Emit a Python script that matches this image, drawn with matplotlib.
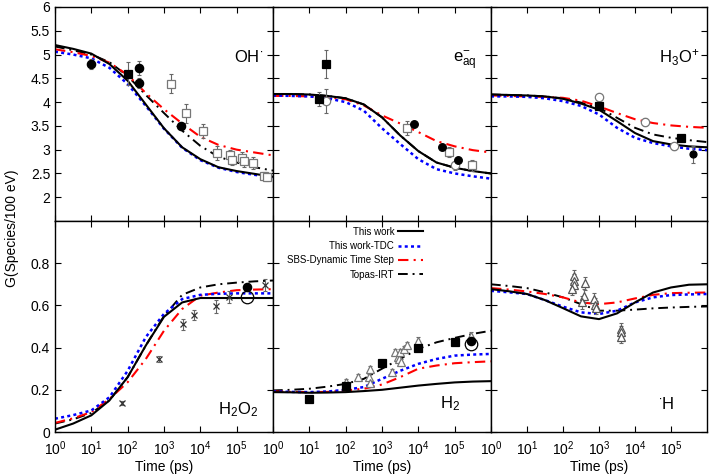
import numpy as np
import matplotlib
matplotlib.use('Agg')
import matplotlib.pyplot as plt

plt.rcParams['font.family'] = ['Liberation Sans', 'DejaVu Sans']
plt.rcParams['mathtext.fontset'] = 'custom'
plt.rcParams['mathtext.rm'] = 'Liberation Sans'
plt.rcParams['mathtext.it'] = 'Liberation Sans:italic'
plt.rcParams['mathtext.bf'] = 'Liberation Sans:bold'

# Time grid of the model curves (ps)
time_ps = [1, 3.16, 10, 31.6, 100, 316, 1000, 3160, 1e4, 3.16e4, 1e5, 3.16e5, 1e6]

# Model curves: This work, This work-TDC, SBS-Dynamic Time Step, Topas-IRT
oh_this = [5.20, 5.12, 5.02, 4.80, 4.45, 3.95, 3.45, 3.05, 2.80, 2.63, 2.55, 2.49, 2.43]
oh_tdc = [5.06, 5.00, 4.92, 4.72, 4.38, 3.92, 3.44, 3.04, 2.78, 2.62, 2.53, 2.47, 2.42]
oh_sbs = [5.11, 5.05, 4.97, 4.83, 4.57, 4.19, 3.85, 3.55, 3.27, 3.10, 3.00, 2.94, 2.88]
oh_topas = [5.17, 5.09, 5.00, 4.84, 4.55, 4.15, 3.77, 3.40, 3.08, 2.85, 2.73, 2.63, 2.56]

eaq_this = [4.17, 4.17, 4.16, 4.13, 4.08, 3.95, 3.68, 3.30, 2.97, 2.73, 2.62, 2.55, 2.50]
eaq_tdc = [4.14, 4.13, 4.12, 4.08, 4.00, 3.82, 3.45, 3.12, 2.80, 2.59, 2.50, 2.44, 2.39]
eaq_sbs = [4.13, 4.13, 4.12, 4.10, 4.06, 3.93, 3.72, 3.55, 3.37, 3.18, 3.07, 2.99, 2.94]
eaq_topas = [4.17, 4.17, 4.16, 4.13, 4.08, 3.95, 3.68, 3.30, 2.97, 2.73, 2.62, 2.55, 2.50]

h3o_this = [4.16, 4.15, 4.14, 4.12, 4.07, 3.97, 3.84, 3.60, 3.35, 3.18, 3.11, 3.07, 3.05]
h3o_tdc = [4.12, 4.12, 4.11, 4.08, 4.02, 3.92, 3.74, 3.46, 3.25, 3.14, 3.07, 3.02, 2.99]
h3o_sbs = [4.14, 4.13, 4.12, 4.11, 4.09, 4.03, 3.91, 3.77, 3.64, 3.56, 3.51, 3.48, 3.46]
h3o_topas = [4.16, 4.15, 4.14, 4.12, 4.08, 3.99, 3.88, 3.67, 3.46, 3.32, 3.25, 3.20, 3.16]

h2o2_this = [0.011, 0.040, 0.079, 0.150, 0.260, 0.410, 0.546, 0.614, 0.635, 0.635, 0.635, 0.635, 0.635]
h2o2_tdc = [0.063, 0.080, 0.102, 0.165, 0.290, 0.450, 0.560, 0.630, 0.650, 0.655, 0.657, 0.657, 0.657]
h2o2_sbs = [0.043, 0.065, 0.094, 0.157, 0.236, 0.346, 0.480, 0.583, 0.646, 0.661, 0.672, 0.675, 0.677]
h2o2_topas = [0.040, 0.060, 0.090, 0.150, 0.260, 0.410, 0.550, 0.650, 0.685, 0.700, 0.708, 0.714, 0.718]

h2_this = [0.189, 0.188, 0.186, 0.187, 0.189, 0.194, 0.200, 0.210, 0.220, 0.228, 0.235, 0.239, 0.241]
h2_tdc = [0.192, 0.190, 0.189, 0.192, 0.200, 0.213, 0.252, 0.290, 0.323, 0.346, 0.362, 0.367, 0.370]
h2_sbs = [0.192, 0.190, 0.189, 0.190, 0.197, 0.205, 0.225, 0.260, 0.300, 0.315, 0.326, 0.331, 0.335]
h2_topas = [0.197, 0.200, 0.205, 0.215, 0.228, 0.252, 0.300, 0.346, 0.394, 0.425, 0.446, 0.465, 0.480]

h_this = [0.677, 0.667, 0.654, 0.625, 0.587, 0.548, 0.535, 0.562, 0.614, 0.661, 0.685, 0.698, 0.700]
h_tdc = [0.669, 0.662, 0.654, 0.625, 0.594, 0.567, 0.559, 0.575, 0.614, 0.638, 0.649, 0.652, 0.654]
h_sbs = [0.682, 0.675, 0.666, 0.654, 0.638, 0.614, 0.606, 0.614, 0.633, 0.650, 0.658, 0.660, 0.661]
h_topas = [0.700, 0.692, 0.682, 0.662, 0.638, 0.606, 0.575, 0.575, 0.580, 0.586, 0.590, 0.593, 0.595]

# Experimental points: time (ps), G, error
oh_fcirc_t = [10, 200, 200, 3000]
oh_fcirc_g = [4.80, 4.71, 4.40, 3.50]
oh_fcirc_e = [0.10, 0.15, 0.10, 0.05]
oh_fsq_t = [100]
oh_fsq_g = [4.60]
oh_fsq_e = [0.25]
oh_osq_t = [1550, 4100, 11500, 28000, 66000, 76000, 138000, 162000, 290000, 550000, 680000]
oh_osq_g = [4.39, 3.77, 3.39, 2.93, 2.88, 2.79, 2.83, 2.76, 2.72, 2.44, 2.42]
oh_osq_e = [0.20, 0.20, 0.15, 0.15, 0.12, 0.12, 0.12, 0.12, 0.12, 0.08, 0.08]

eaq_fsq_t = [29, 19]
eaq_fsq_g = [4.80, 4.07]
eaq_fsq_e = [0.30, 0.15]
eaq_ocirc_t = [29, 100000]
eaq_ocirc_g = [4.02, 2.67]
eaq_ocirc_e = [0.25, 0.10]
eaq_fcirc_t = [7400, 44000, 120000]
eaq_fcirc_g = [3.55, 3.05, 2.79]
eaq_fcirc_e = [0.05, 0.05, 0.05]
eaq_osq_t = [5000, 72000, 300000]
eaq_osq_g = [3.46, 2.95, 2.67]
eaq_osq_e = [0.15, 0.10, 0.12]

h3o_ocirc_t = [1000, 19000, 120000]
h3o_ocirc_g = [4.10, 3.58, 3.07]
h3o_ocirc_e = [0.08, 0.08, 0.08]
h3o_fsq_t = [1000, 190000]
h3o_fsq_g = [3.91, 3.25]
h3o_fsq_e = [0.05, 0.05]
h3o_fcirc_t = [400000]
h3o_fcirc_g = [2.90]
h3o_fcirc_e = [0.17]

h2o2_x_t = [70, 750, 3400, 6600, 27000, 63000, 590000]
h2o2_x_g = [0.137, 0.346, 0.510, 0.554, 0.595, 0.640, 0.696]
h2o2_x_e = [0.008, 0.015, 0.025, 0.025, 0.030, 0.030, 0.030]
h2o2_fcirc_t = [190000]
h2o2_fcirc_g = [0.688]
h2o2_fcirc_e = [0.010]
h2o2_big_t = [190000]
h2o2_big_g = [0.640]

h2_fsq_t = [10, 100, 1000, 10000, 100000]
h2_fsq_g = [0.157, 0.216, 0.326, 0.400, 0.428]
h2_fcirc_t = [280000]
h2_fcirc_g = [0.433]
h2_big_t = [280000]
h2_big_g = [0.417]
h2_tri_t = [100, 224, 447, 480, 480, 1860, 2290, 2690, 2950, 3160, 3400, 3980, 4790, 10000, 280000]
h2_tri_g = [0.236, 0.260, 0.260, 0.300, 0.230, 0.283, 0.378, 0.354, 0.346, 0.378, 0.330, 0.394, 0.410, 0.433, 0.457]
h2_tri_e = [0.015] * 15

h_tri_t = [200, 200, 200, 180, 400, 380, 330, 740, 780, 800, 4000, 4000, 4000]
h_tri_g = [0.740, 0.717, 0.696, 0.677, 0.704, 0.646, 0.614, 0.630, 0.603, 0.590, 0.488, 0.472, 0.452]
h_tri_e = [0.03] * 13

x_ticks = [1, 10, 100, 1000, 1e4, 1e5]


def draw_models(ax, this, tdc, sbs, topas):
    # Draw the four simulation curves, return handles for the legend
    h4, = ax.plot(time_ps, topas, color='black', lw=1.4, dashes=(5, 2.5, 1, 2.5))
    h3, = ax.plot(time_ps, sbs, color='red', lw=1.5, dashes=(5, 2.5, 1, 2.5))
    h2, = ax.plot(time_ps, tdc, color='blue', lw=1.8, dashes=(1.2, 1.3))
    h1, = ax.plot(time_ps, this, color='black', lw=1.5)
    return [h1, h2, h3, h4]


def draw_points(ax, t, g, err, marker, face, edge, size):
    # Error bars in grey, then the markers on top
    if err is not None:
        ax.errorbar(t, g, yerr=err, fmt='none', ecolor='#666666',
                    elinewidth=0.8, capsize=1.5, capthick=0.8, zorder=5)
    ax.plot(t, g, linestyle='none', marker=marker, markersize=size,
            markerfacecolor=face, markeredgecolor=edge, markeredgewidth=0.9, zorder=6)


def style_axes(ax, top_row, first_col):
    ax.set_xscale('log')
    ax.set_xlim(1, 1e6)
    ax.set_xticks(x_ticks)
    ax.tick_params(which='both', direction='in', top=True, right=True, labelsize=10)
    ax.tick_params(which='major', length=4)
    ax.tick_params(which='minor', length=2.2)
    ax.tick_params(axis='x', pad=5)
    if top_row:
        ax.set_ylim(1.5, 6)
        ax.set_yticks([2, 2.5, 3, 3.5, 4, 4.5, 5, 5.5, 6])
        ax.set_yticklabels(['2', '2.5', '3', '3.5', '4', '4.5', '5', '5.5', '6'])
        ax.tick_params(labelbottom=False)
    else:
        ax.set_ylim(0, 1)
        ax.set_yticks([0, 0.2, 0.4, 0.6, 0.8])
        ax.set_yticklabels(['0', '0.2', '0.4', '0.6', '0.8'])
        ax.set_xlabel('Time (ps)', fontsize=10, labelpad=2)
    if not first_col:
        ax.tick_params(labelleft=False)
    for s in ax.spines.values():
        s.set_linewidth(1.0)


fig = plt.figure(figsize=(7.09, 4.76), dpi=100)

xs = [55 / 709, 273 / 709, 491 / 709, 707 / 709]
y_top = [1 - 221 / 476, 1 - 7 / 476]
y_bot = [1 - 432 / 476, 1 - 221 / 476]

axes = {}
for r, (yb, yt) in enumerate([y_top, y_bot]):
    for c in range(3):
        ax = fig.add_axes([xs[c], yb, xs[c + 1] - xs[c], yt - yb])
        style_axes(ax, r == 0, c == 0)
        axes[(r, c)] = ax

# OH
ax = axes[(0, 0)]
draw_models(ax, oh_this, oh_tdc, oh_sbs, oh_topas)
draw_points(ax, oh_osq_t, oh_osq_g, oh_osq_e, 's', 'white', '#777777', 6)
draw_points(ax, oh_fsq_t, oh_fsq_g, oh_fsq_e, 's', 'black', 'black', 6)
draw_points(ax, oh_fcirc_t, oh_fcirc_g, oh_fcirc_e, 'o', 'black', 'black', 6)
ax.text(0.955, 0.765, r'$\mathrm{OH}^{\bullet}$', transform=ax.transAxes, ha='right', va='center', fontsize=12)

# e-aq
ax = axes[(0, 1)]
draw_models(ax, eaq_this, eaq_tdc, eaq_sbs, eaq_topas)
draw_points(ax, eaq_osq_t, eaq_osq_g, eaq_osq_e, 's', 'white', '#777777', 6)
draw_points(ax, eaq_ocirc_t, eaq_ocirc_g, eaq_ocirc_e, 'o', 'white', '#777777', 6)
draw_points(ax, eaq_fsq_t, eaq_fsq_g, eaq_fsq_e, 's', 'black', 'black', 5.5)
draw_points(ax, eaq_fcirc_t, eaq_fcirc_g, eaq_fcirc_e, 'o', 'black', 'black', 5.5)
ax.text(0.935, 0.75, r'$\mathrm{e}^{-}_{\mathrm{aq}}$', transform=ax.transAxes, ha='right', va='center', fontsize=12)

# H3O+
ax = axes[(0, 2)]
draw_models(ax, h3o_this, h3o_tdc, h3o_sbs, h3o_topas)
draw_points(ax, h3o_ocirc_t, h3o_ocirc_g, h3o_ocirc_e, 'o', 'white', '#777777', 6)
draw_points(ax, h3o_fsq_t, h3o_fsq_g, h3o_fsq_e, 's', 'black', 'black', 6)
draw_points(ax, h3o_fcirc_t, h3o_fcirc_g, h3o_fcirc_e, 'o', 'black', 'black', 5)
ax.text(0.965, 0.765, r'$\mathrm{H_3O^{+}}$', transform=ax.transAxes, ha='right', va='center', fontsize=12)

# H2O2
ax = axes[(1, 0)]
draw_models(ax, h2o2_this, h2o2_tdc, h2o2_sbs, h2o2_topas)
draw_points(ax, h2o2_x_t, h2o2_x_g, h2o2_x_e, 'x', '#333333', '#333333', 4)
draw_points(ax, h2o2_big_t, h2o2_big_g, None, 'o', 'none', 'black', 9)
draw_points(ax, h2o2_fcirc_t, h2o2_fcirc_g, h2o2_fcirc_e, 'o', 'black', 'black', 6)
ax.text(0.93, 0.105, r'$\mathrm{H_2O_2}$', transform=ax.transAxes, ha='right', va='center', fontsize=12)

# H2
ax = axes[(1, 1)]
handles = draw_models(ax, h2_this, h2_tdc, h2_sbs, h2_topas)
draw_points(ax, h2_tri_t, h2_tri_g, h2_tri_e, '^', 'white', '#777777', 6)
draw_points(ax, h2_fsq_t, h2_fsq_g, None, 's', 'black', 'black', 6)
draw_points(ax, h2_big_t, h2_big_g, None, 'o', 'none', 'black', 9)
draw_points(ax, h2_fcirc_t, h2_fcirc_g, None, 'o', 'black', 'black', 6)
ax.text(0.86, 0.135, r'$\mathrm{H_2}$', transform=ax.transAxes, ha='right', va='center', fontsize=12)
ax.legend(handles, ['This work', 'This work-TDC', 'SBS-Dynamic Time Step', 'Topas-IRT'],
          loc='upper right', bbox_to_anchor=(0.73, 1.015), frameon=False, fontsize=7,
          markerfirst=False, handlelength=2.6, handletextpad=0.4, labelspacing=0.45)

# H
ax = axes[(1, 2)]
draw_models(ax, h_this, h_tdc, h_sbs, h_topas)
draw_points(ax, h_tri_t, h_tri_g, h_tri_e, '^', 'white', '#555555', 6)
ax.text(0.85, 0.135, r'$^{\bullet}\mathrm{H}$', transform=ax.transAxes, ha='right', va='center', fontsize=12)

fig.text(0.017, 0.52, 'G(Species/100 eV)', rotation=90, ha='center', va='center', fontsize=10)

plt.savefig('out.png', dpi=100)
